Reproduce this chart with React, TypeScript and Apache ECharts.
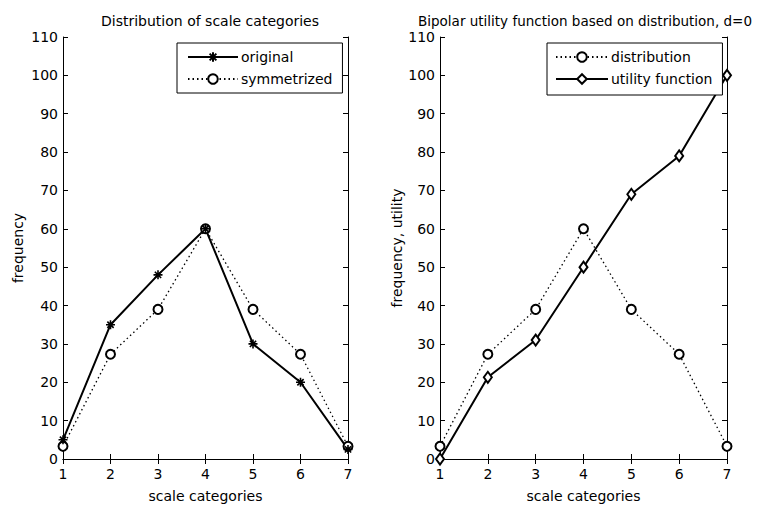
import React, { useEffect, useRef } from "react";
import * as echarts from "echarts";

const categories = [1, 2, 3, 4, 5, 6, 7];
const original = [5, 35, 48, 60, 30, 20, 2.5];
const symmetrized = [3.3, 27.3, 39, 60, 39, 27.3, 3.3];
const distribution = [3.3, 27.3, 39, 60, 39, 27.3, 3.3];
const utility = [0, 21.3, 31, 50, 69, 79, 100];
const yTicksMax = 110;

const FONT = "'DejaVu Sans', Arial, sans-serif";
const FS = 14;
const STAR = "path://M0 5 L10 5 M5 0 L5 10 M1.5 1.5 L8.5 8.5 M8.5 1.5 L1.5 8.5";

function pairs(vals: number[]) {
  return categories.map((c, i) => [c, vals[i]]);
}

export default function App() {
  const ref = useRef<HTMLDivElement>(null);
  useEffect(() => {
    if (!ref.current) return;
    const chart = echarts.init(ref.current, undefined, { renderer: "svg" });
    const axisLine = { show: true, lineStyle: { color: "#000", width: 1 } };
    const tick = { show: true, inside: true, length: 5, lineStyle: { color: "#000" } };
    const label = { color: "#000", fontSize: FS, fontFamily: FONT };
    const xBase = (g: number) => ({
      gridIndex: g,
      type: "value",
      min: 1,
      max: 7,
      interval: 1,
      axisLine,
      axisTick: tick,
      splitLine: { show: false },
    });
    const yBase = (g: number) => ({
      gridIndex: g,
      type: "value",
      min: 0,
      max: yTicksMax,
      interval: 10,
      axisLine,
      axisTick: tick,
      splitLine: { show: false },
    });
    const nameStyle = { color: "#000", fontSize: FS, fontFamily: FONT };
    const solid = { color: "#000", width: 2, type: "solid" };
    const dotted = { color: "#000", width: 1.3, type: [1.5, 3] };
    const legendText = { color: "#000", fontSize: FS, fontFamily: FONT, padding: [0, 0, 0, -2] };
    chart.setOption({
      animation: false,
      backgroundColor: "#fff",
      title: [
        {
          text: "Distribution of scale categories",
          left: 205,
          top: 9,
          textAlign: "center",
          textStyle: { fontSize: FS, fontWeight: "normal", color: "#000", fontFamily: FONT },
        },
        {
          text: "Bipolar utility function based on distribution, d=0",
          left: 580,
          top: 9,
          textAlign: "center",
          textStyle: { fontSize: 13.5, fontWeight: "normal", color: "#000", fontFamily: FONT },
        },
      ],
      grid: [
        { left: 63, right: 409, top: 37, bottom: 46 },
        { left: 440, right: 30, top: 37, bottom: 46 },
      ],
      legend: [
        {
          data: ["original", "symmetrized"],
          orient: "vertical",
          left: 177,
          top: 43,
          padding: [7, 10, 7, 10],
          itemWidth: 50,
          itemHeight: 12,
          itemGap: 8,
          borderColor: "#000",
          borderWidth: 1,
          backgroundColor: "#fff",
          textStyle: legendText,
          inactiveColor: "#000",
        },
        {
          data: ["distribution", "utility function"],
          orient: "vertical",
          left: 547,
          top: 43,
          padding: [7, 10, 9, 8],
          itemWidth: 52,
          itemHeight: 12,
          itemGap: 8,
          borderColor: "#000",
          borderWidth: 1,
          backgroundColor: "#fff",
          textStyle: legendText,
          inactiveColor: "#000",
        },
      ],
      xAxis: [
        {
          ...xBase(0),
          position: "bottom",
          axisLabel: { ...label, margin: 8 },
          name: "scale categories",
          nameLocation: "middle",
          nameGap: 30,
          nameTextStyle: nameStyle,
        },
        { ...xBase(0), position: "top", axisLabel: { show: false } },
        {
          ...xBase(1),
          position: "bottom",
          axisLabel: { ...label, margin: 8 },
          name: "scale categories",
          nameLocation: "middle",
          nameGap: 30,
          nameTextStyle: nameStyle,
        },
        { ...xBase(1), position: "top", axisLabel: { show: false } },
      ],
      yAxis: [
        {
          ...yBase(0),
          position: "left",
          axisLabel: { ...label, margin: 5 },
          name: "frequency",
          nameLocation: "middle",
          nameGap: 38,
          nameTextStyle: nameStyle,
        },
        { ...yBase(0), position: "right", axisLabel: { show: false } },
        {
          ...yBase(1),
          position: "left",
          axisLabel: { ...label, margin: 5 },
          name: "frequency, utility",
          nameLocation: "middle",
          nameGap: 36,
          nameTextStyle: nameStyle,
        },
        { ...yBase(1), position: "right", axisLabel: { show: false } },
      ],
      series: [
        {
          name: "symmetrized",
          type: "line",
          xAxisIndex: 0,
          yAxisIndex: 0,
          data: pairs(symmetrized),
          symbol: "emptyCircle",
          symbolSize: 9,
          lineStyle: dotted,
          itemStyle: { color: "#000", borderColor: "#000", borderWidth: 1.8 },
        },
        {
          name: "original",
          type: "line",
          xAxisIndex: 0,
          yAxisIndex: 0,
          data: pairs(original),
          symbol: STAR,
          symbolSize: 9,
          lineStyle: solid,
          itemStyle: { color: "#000", borderColor: "#000", borderWidth: 1.6 },
        },
        {
          name: "distribution",
          type: "line",
          xAxisIndex: 2,
          yAxisIndex: 2,
          data: pairs(distribution),
          symbol: "emptyCircle",
          symbolSize: 9,
          lineStyle: dotted,
          itemStyle: { color: "#000", borderColor: "#000", borderWidth: 1.8 },
        },
        {
          name: "utility function",
          type: "line",
          xAxisIndex: 2,
          yAxisIndex: 2,
          data: pairs(utility),
          symbol: "emptyDiamond",
          symbolSize: [8, 11],
          lineStyle: solid,
          itemStyle: { color: "#000", borderColor: "#000", borderWidth: 1.6 },
        },
      ],
    });
    return () => chart.dispose();
  }, []);
  return <div ref={ref} style={{ width: 757, height: 508, position: "absolute", left: 0, top: 0 }} />;
}
